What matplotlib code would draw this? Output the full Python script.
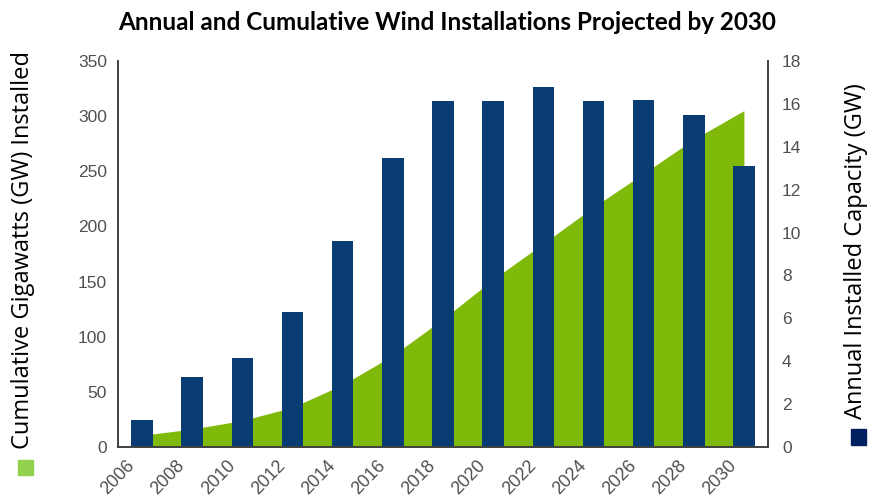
import matplotlib
matplotlib.use("Agg")
import matplotlib.pyplot as plt
import matplotlib.transforms as mtransforms

plt.rcParams["font.family"] = ["Liberation Sans", "DejaVu Sans"]

# ---- data ----
bar_years = [2006, 2008, 2010, 2012, 2014, 2016, 2018, 2020, 2022, 2024, 2026, 2028, 2030]
annual_gw = [1.25, 3.25, 4.15, 6.3, 9.6, 13.5, 16.15, 16.15, 16.8, 16.15, 16.2, 15.5, 13.1]
cum_years = [2006, 2008, 2010, 2012, 2014, 2016, 2018, 2020, 2022, 2024, 2026, 2028, 2030]
cumulative_gw = [10.6, 16.3, 24, 36, 56.5, 83, 116, 152, 184.5, 217.5, 248, 279, 305]
xtick_labels = [str(y) for y in bar_years]
left_ticks = [0, 50, 100, 150, 200, 250, 300, 350]
right_ticks = [0, 2, 4, 6, 8, 10, 12, 14, 16, 18]

title = "Annual and Cumulative Wind Installations Projected by 2030"
left_label = "Cumulative Gigawatts (GW) Installed"
right_label = "Annual Installed Capacity (GW)"

BAR_C = "#083c72"
AREA_C = "#7fba0a"
LEG_GREEN = "#92d050"
LEG_BLUE = "#002060"
AX_C = "#404040"
TICK_C = "#505050"

W, H = 870, 500
fig = plt.figure(figsize=(W / 100, H / 100), dpi=100)
fig.patch.set_facecolor("white")

L, R, B, T = 118, 768, 447, 61
ax = fig.add_axes([L / W, 1 - B / H, (R - L) / W, (B - T) / H])
ax2 = ax.twinx()

ax.fill_between(cum_years, 0, cumulative_gw, color=AREA_C, linewidth=0, zorder=1)
ax2.bar(bar_years, annual_gw, width=0.86, color=BAR_C, zorder=2)

ax.set_xlim(2005.04, 2030.96)
ax.set_ylim(0, 350)
ax2.set_ylim(0, 18)

ax.set_yticks(left_ticks)
ax.set_yticklabels([str(v) for v in left_ticks])
ax2.set_yticks(right_ticks)
ax2.set_yticklabels([str(v) for v in right_ticks])
ax.set_xticks(bar_years)
ax.set_xticklabels(xtick_labels, rotation=46, ha="right", va="top",
                   rotation_mode="anchor")

ax.tick_params(axis="both", length=0, labelsize=12.5, labelcolor=TICK_C)
ax.tick_params(axis="y", pad=8)
ax.tick_params(axis="x", pad=7, labelsize=13)
ax2.tick_params(axis="y", length=0, pad=10, labelsize=12.5, labelcolor=TICK_C)

offset = mtransforms.ScaledTranslation(-16 / 100, 0, fig.dpi_scale_trans)
for lbl in ax.get_xticklabels():
    lbl.set_transform(lbl.get_transform() + offset)

for a in (ax, ax2):
    a.spines["top"].set_visible(False)
    for s in ("left", "right", "bottom"):
        a.spines[s].set_color(AX_C)
        a.spines[s].set_linewidth(1.2)
ax.set_facecolor("none")

fig.text(0.514, 0.955, title, ha="center", va="center", fontsize=17.5,
         fontweight="bold", family="Lato", color="black")

fig.text(23 / W, 1 - 250 / H, left_label, rotation=90, ha="center", va="center",
         fontsize=17, family="Open Sans", color="black")
fig.text(856 / W, 1 - 251 / H, right_label, rotation=90, ha="center", va="center",
         fontsize=17, family="Open Sans", color="black")

fig.patches.append(plt.Rectangle((18 / W, 1 - 475 / H), 15 / W, 15 / H,
                                 transform=fig.transFigure, color=LEG_GREEN))
fig.patches.append(plt.Rectangle((851 / W, 1 - 445 / H), 15 / W, 16 / H,
                                 transform=fig.transFigure, color=LEG_BLUE))

fig.savefig("out.png", dpi=100, facecolor="white")
